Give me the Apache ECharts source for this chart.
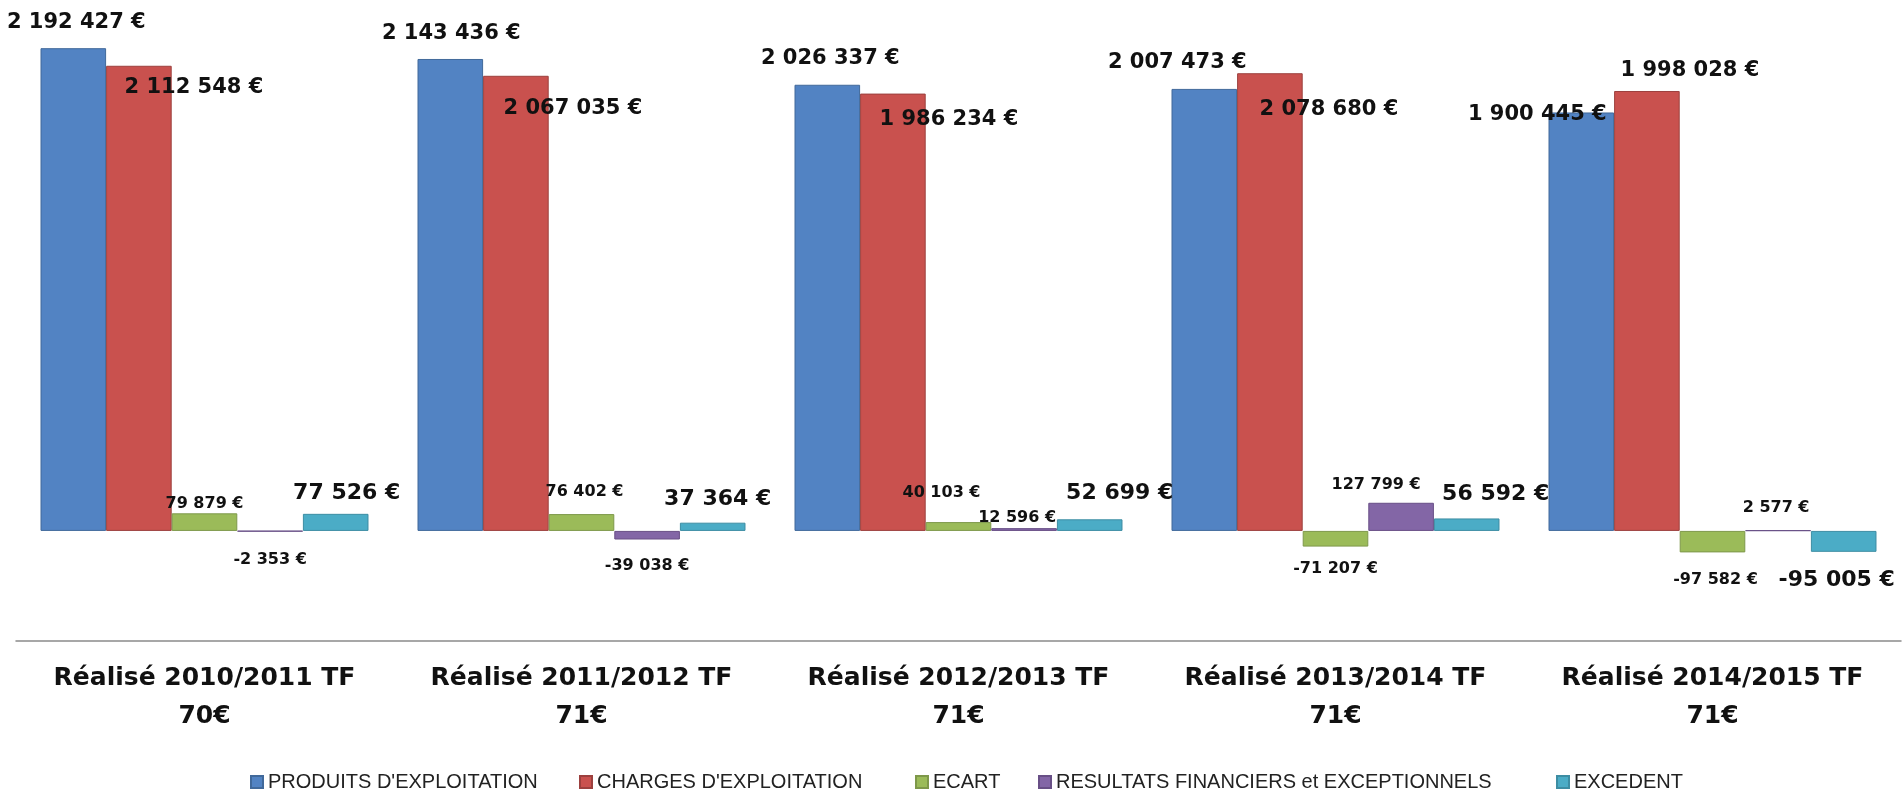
<!DOCTYPE html>
<html>
<head>
<meta charset="utf-8">
<script src="https://cdn.jsdelivr.net/npm/echarts@6/dist/echarts.min.js"></script>
<style>
html,body{margin:0;padding:0;background:#fff;}
#chart{width:1903px;height:794px;}
</style>
</head>
<body>
<div id="chart"></div>
<script>
// ---- Data ----
const periods = ['Réalisé 2010/2011', 'Réalisé 2011/2012', 'Réalisé 2012/2013', 'Réalisé 2013/2014', 'Réalisé 2014/2015'];
const tfValues = ['70€', '71€', '71€', '71€', '71€'];
const seriesNames = ["PRODUITS D'EXPLOITATION", "CHARGES D'EXPLOITATION", 'ECART', 'RESULTATS FINANCIERS et EXCEPTIONNELS', 'EXCEDENT'];
const produits = [2192427, 2143436, 2026337, 2007473, 1900445];
const charges = [2112548, 2067035, 1986234, 2078680, 1998028];
const ecart = [79879, 76402, 40103, -71207, -97582];
const resultats = [-2353, -39038, 12596, 127799, 2577];
const excedent = [77526, 37364, 52699, 56592, -95005];

// ---- Styling (separate from data) ----
const colors = ['#5283c3', '#c9514e', '#9bbb59', '#8366a6', '#4bacc6'];
const borderColors = ['#41699a', '#9c403e', '#7e984a', '#684f86', '#3d8da3'];
const labelFont = [21, 21, 16, 16, 22];
const legendLeft = [250, 579, 915, 1038, 1556];
// distance from bar end to label centre, and horizontal shift, per series / category
const labelGap = [
  [26, 25, 26, 26, -2],
  [-22, -33, -26, -36, 20],
  [9, 22, 29, 22, 27],
  [28, 26, 10, 18, 22],
  [21, 23, 26, 24, 28]
];
const labelDx = [
  [3, 1, 3, -27, -44],
  [55, 57, 56, 59, 43],
  [0, 3, -17, 0, 3],
  [0, 0, -7, -25, -2],
  [11, 5, 30, 29, -7]
];

function fmt(v) {
  const s = Math.abs(Math.round(v)).toString().replace(/\B(?=(\d{3})+(?!\d))/g, ' ');
  return (v < 0 ? '-' : '') + s + ' €';
}

const allValues = [produits, charges, ecart, resultats, excedent];
const categories = periods.map((p, i) => p + ' TF\n' + tfValues[i]);

const series = allValues.map((vals, si) => {
  const fs = labelFont[si];
  const lh = fs + 4;
  return {
    name: seriesNames[si],
    type: 'bar',
    barGap: '0%',
    barCategoryGap: '13%',
    itemStyle: { color: colors[si], borderColor: borderColors[si], borderWidth: 1 },
    data: vals.map((v, ci) => {
      const g = labelGap[si][ci];
      const pos = v >= 0 ? 'top' : 'bottom';
      const dy = v >= 0 ? (lh / 2 - g) : (g - lh / 2);
      return {
        value: v,
        label: {
          show: true,
          position: pos,
          distance: 0,
          offset: [labelDx[si][ci], dy],
          formatter: (p) => fmt(p.value),
          fontFamily: 'DejaVu Sans',
          fontWeight: 'bold',
          fontSize: fs,
          lineHeight: lh,
          color: '#111'
        }
      };
    })
  };
});

const legends = seriesNames.map((n, i) => ({
  data: [n],
  left: legendLeft[i],
  top: 772,
  padding: 0,
  icon: 'rect',
  itemWidth: 12,
  itemHeight: 12,
  textStyle: { fontFamily: 'Liberation Sans', fontSize: 20, color: '#222' }
}));

const chart = echarts.init(document.getElementById('chart'), null, { renderer: 'canvas' });
chart.setOption({
  backgroundColor: '#ffffff',
  animation: false,
  grid: { left: 16, right: 2, top: 24.5, bottom: 153, containLabel: false },
  legend: legends,
  xAxis: {
    type: 'category',
    data: categories,
    axisLine: { show: true, onZero: false, lineStyle: { color: '#8a8a8a', width: 1.5 } },
    axisTick: { show: false },
    axisLabel: {
      interval: 0,
      margin: 18,
      fontFamily: 'DejaVu Sans',
      fontWeight: 'bold',
      fontSize: 25,
      lineHeight: 38,
      color: '#111'
    }
  },
  yAxis: {
    type: 'value',
    min: -500000,
    max: 2300000,
    show: false,
    splitLine: { show: false }
  },
  series: series
});
</script>
</body>
</html>
